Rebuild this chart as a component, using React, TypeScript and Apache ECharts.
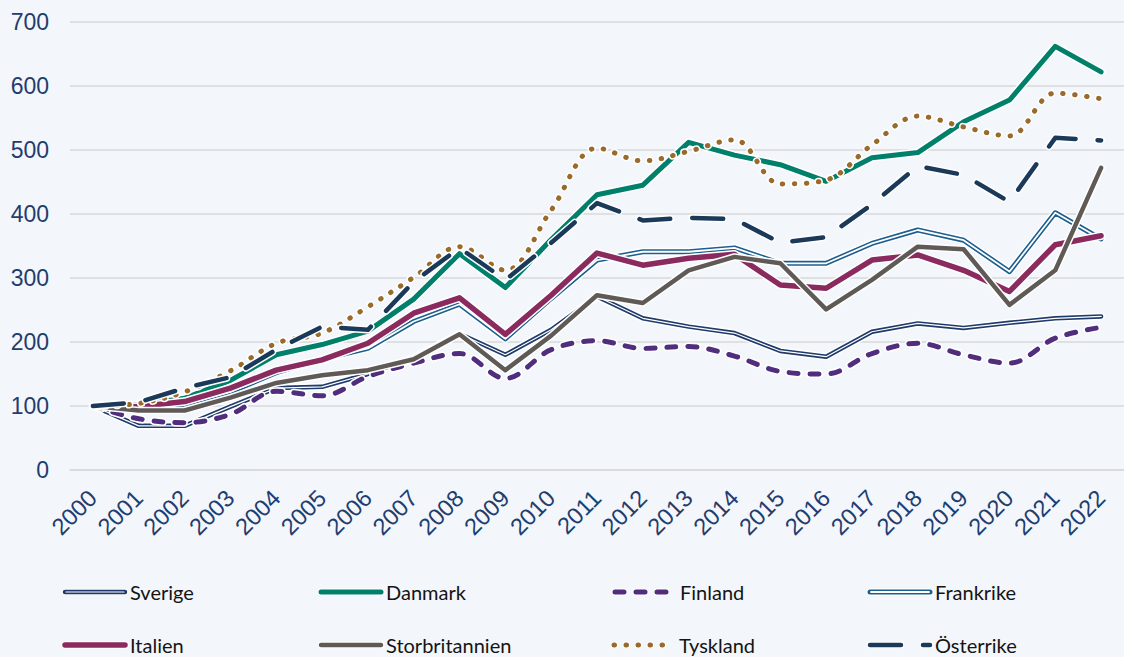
import React, { useEffect, useRef } from "react";
import * as echarts from "echarts";

const years = ["2000","2001","2002","2003","2004","2005","2006","2007","2008","2009","2010","2011","2012","2013","2014","2015","2016","2017","2018","2019","2020","2021","2022"];
const yTicks = [0, 100, 200, 300, 400, 500, 600, 700];

const sverige = [100, 69, 69, 99, 128, 130, 150, 175, 213, 180, 219, 271, 237, 224, 214, 186, 177, 216, 229, 222, 230, 237, 240];
const danmark = [100, 102, 112, 140, 180, 196, 217, 267, 338, 285, 360, 430, 445, 512, 492, 477, 451, 488, 496, 544, 578, 662, 622];
const finland = [100, 80, 74, 87, 123, 116, 146, 167, 182, 143, 188, 202, 190, 193, 178, 154, 150, 182, 198, 180, 167, 206, 223];
const frankrike = [100, 97, 102, 122, 152, 173, 190, 232, 259, 205, 268, 328, 341, 341, 347, 323, 323, 354, 375, 359, 310, 402, 361];
const italien = [100, 99, 107, 128, 156, 172, 198, 245, 269, 212, 273, 339, 320, 331, 337, 289, 284, 328, 336, 312, 279, 352, 366];
const storbritannien = [100, 93, 93, 113, 136, 148, 156, 173, 212, 156, 210, 273, 261, 312, 333, 323, 251, 297, 349, 345, 258, 312, 472];
const tyskland = [100, 104, 122, 155, 198, 214, 255, 301, 349, 312, 406, 503, 483, 498, 516, 447, 453, 508, 553, 536, 522, 589, 580];
const osterrike = [100, 106, 128, 145, 188, 224, 219, 294, 347, 297, 355, 417, 390, 394, 392, 355, 364, 415, 475, 461, 419, 519, 515];

type Spec = {
  name: string;
  data: number[];
  color: string;
  width: number;
  dash?: number[];
  smooth?: number;
  inner?: number;
  lx: number;
  ly: number;
};

const specs: Spec[] = [
  { name: "Sverige", data: sverige, color: "#1f3b6b", width: 4.5, inner: 1.2, lx: 65, ly: 592 },
  { name: "Danmark", data: danmark, color: "#00806b", width: 5, lx: 321, ly: 592 },
  { name: "Finland", data: finland, color: "#512d7d", width: 5, dash: [9, 12], smooth: 0.35, lx: 615, ly: 592 },
  { name: "Frankrike", data: frankrike, color: "#1c5f8f", width: 5, inner: 1.8, lx: 870, ly: 592 },
  { name: "Italien", data: italien, color: "#8a2a5e", width: 5.5, lx: 65, ly: 645 },
  { name: "Storbritannien", data: storbritannien, color: "#5f5a55", width: 4.5, lx: 321, ly: 645 },
  { name: "Tyskland", data: tyskland, color: "#9a6a2a", width: 5, dash: [0.5, 11.5], smooth: 0.35, lx: 614, ly: 645 },
  { name: "Österrike", data: osterrike, color: "#1b3a5a", width: 4.5, dash: [31, 22], lx: 870, ly: 645 },
];

export default function App() {
  const ref = useRef<HTMLDivElement>(null);
  useEffect(() => {
    if (!ref.current) return;
    const chart = echarts.init(ref.current, undefined, { renderer: "svg" });
    const series: any[] = [];
    specs.forEach((s) => {
      const base = {
        type: "line",
        data: s.data,
        symbol: "none",
        silent: true,
        smooth: s.smooth || false,
        emphasis: { disabled: true },
      };
      series.push({
        ...base,
        name: s.name + "_halo",
        lineStyle: { color: "#ffffff", width: s.width + 3, type: s.dash || "solid", cap: "round", join: "round" },
      });
      series.push({
        ...base,
        name: s.name,
        lineStyle: { color: s.color, width: s.width, type: s.dash || "solid", cap: "round", join: "round" },
      });
      if (s.inner) {
        series.push({
          ...base,
          name: s.name + "_inner",
          lineStyle: { color: "#ffffff", width: s.inner, type: "solid", cap: "round", join: "round" },
        });
      }
    });

    const graphic: any[] = [];
    specs.forEach((s) => {
      const x1 = s.lx;
      const x2 = s.lx + 60;
      graphic.push({
        type: "line",
        shape: { x1, y1: s.ly, x2, y2: s.ly },
        style: { stroke: "#ffffff", lineWidth: s.width + 2, lineDash: s.dash || null, lineCap: "round" },
        silent: true,
      });
      graphic.push({
        type: "line",
        shape: { x1, y1: s.ly, x2, y2: s.ly },
        style: { stroke: s.color, lineWidth: s.width, lineDash: s.dash || null, lineCap: "round" },
        silent: true,
      });
      if (s.inner) {
        graphic.push({
          type: "line",
          shape: { x1: x1 + 1, y1: s.ly, x2: x2 - 1, y2: s.ly },
          style: { stroke: "#ffffff", lineWidth: s.inner, lineCap: "round" },
          silent: true,
        });
      }
      graphic.push({
        type: "text",
        x: s.lx + 65,
        y: s.ly,
        style: {
          text: s.name,
          fontSize: 20,
          fontFamily: "Lato",
          fill: "#141414",
          verticalAlign: "middle",
          align: "left",
        },
        silent: true,
      });
    });

    chart.setOption({
      animation: false,
      backgroundColor: "#f3f6fb",
      grid: { left: 70, right: -4, top: 22, bottom: 187 },
      xAxis: {
        type: "category",
        data: years,
        boundaryGap: true,
        axisLine: { show: true, lineStyle: { color: "#d9d9d9", width: 1.5 } },
        axisTick: { show: false },
        axisLabel: {
          rotate: 45,
          margin: 24,
          interval: 0,
          fontSize: 23.5,
          fontFamily: "Liberation Sans",
          color: "#1f3d6e",
        },
      },
      yAxis: {
        type: "value",
        min: yTicks[0],
        max: yTicks[yTicks.length - 1],
        interval: 100,
        axisLine: { show: false },
        axisTick: { show: false },
        splitLine: { lineStyle: { color: "#d9d9d9", width: 1.5 } },
        axisLabel: {
          margin: 21,
          fontSize: 23,
          fontFamily: "Liberation Sans",
          color: "#1f3d6e",
        },
      },
      series,
      graphic,
    });
    return () => chart.dispose();
  }, []);
  return (
    <div
      ref={ref}
      style={{ position: "fixed", left: 0, top: 0, width: 1124, height: 657 }}
    />
  );
}
